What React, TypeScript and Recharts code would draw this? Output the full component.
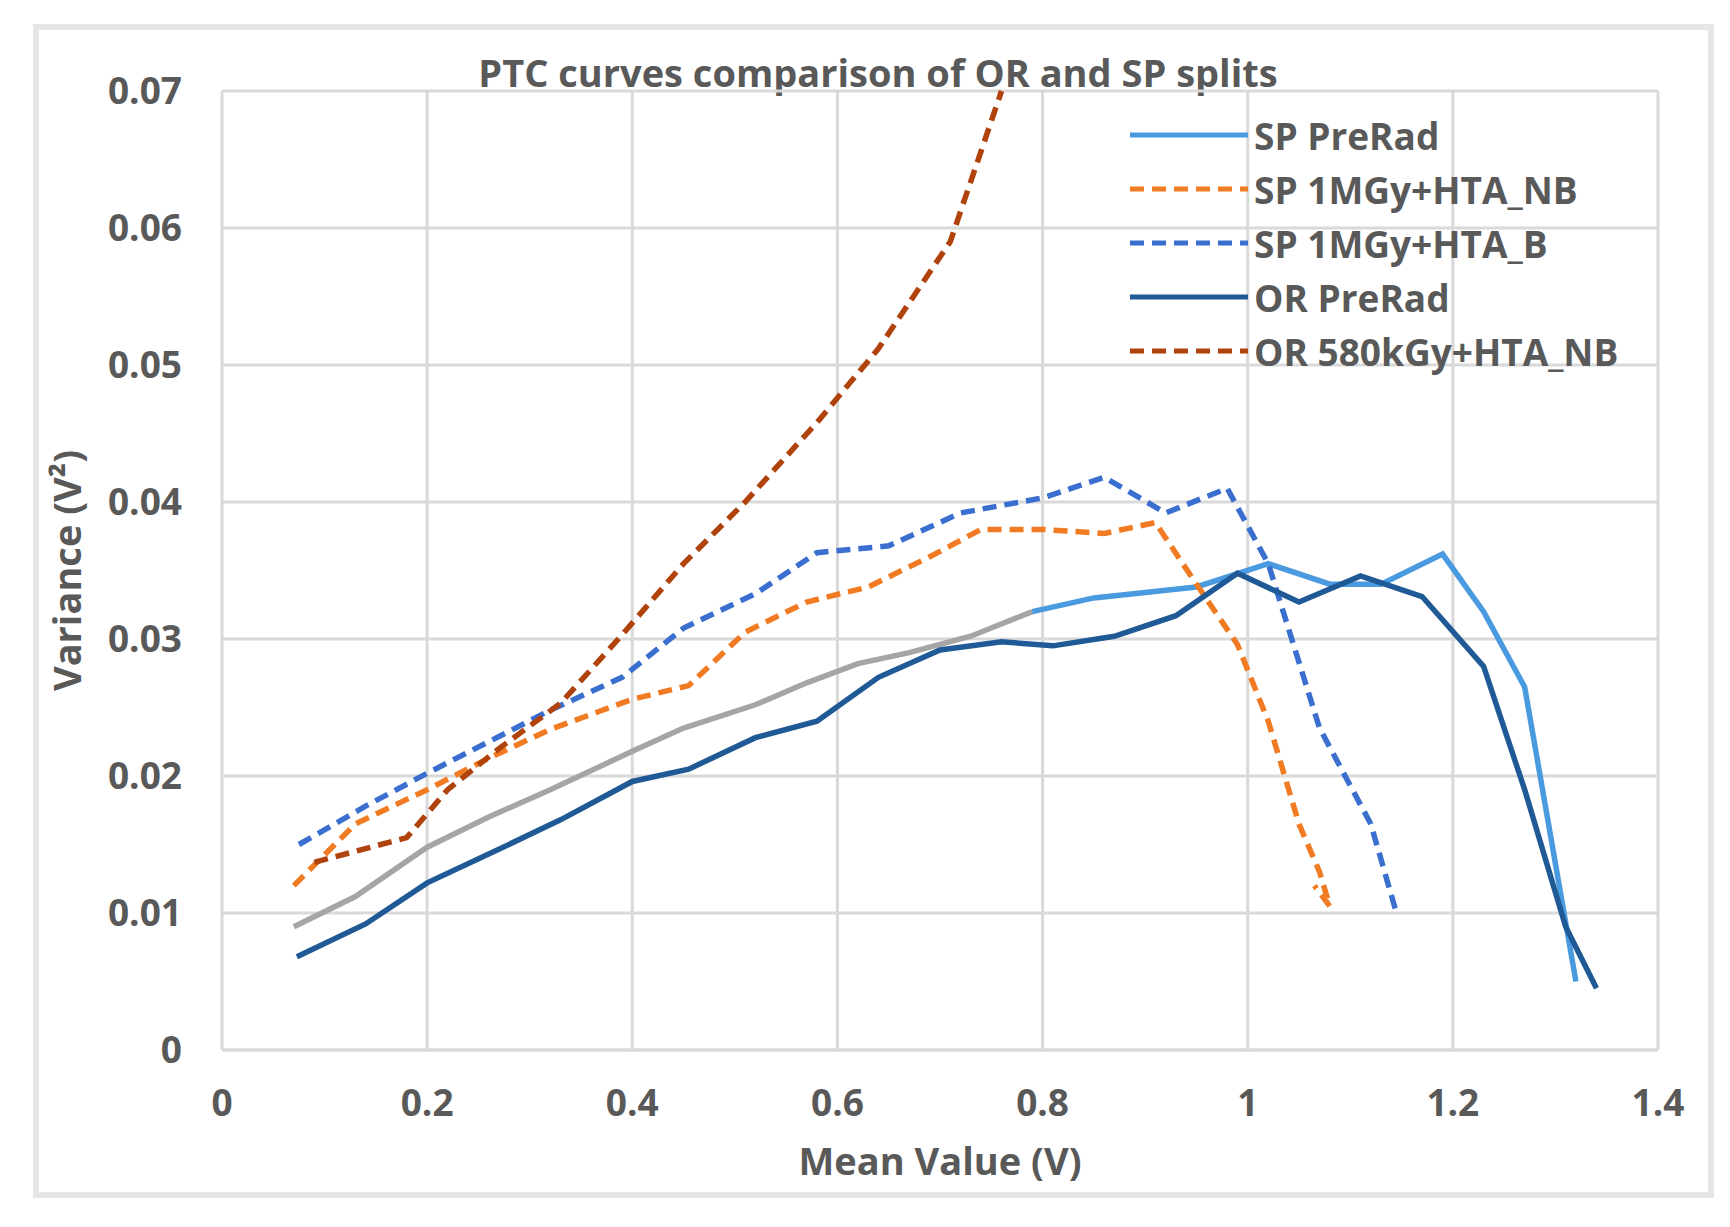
import React from 'react';
import {CartesianGrid, Line, LineChart, XAxis, YAxis} from 'recharts';

type Pt = {x: number; y: number};
const p = (arr: number[][]): Pt[] => arr.map(([x, y]) => ({x, y}));

const spPreRadEarly = p([
  [0.07, 0.009], [0.13, 0.0112], [0.2, 0.0148], [0.26, 0.017], [0.32, 0.019], [0.4, 0.0218],
  [0.45, 0.0235], [0.52, 0.0252], [0.57, 0.0268], [0.62, 0.0282], [0.67, 0.029], [0.73, 0.0302], [0.79, 0.032],
]);
const spPreRad = p([
  [0.79, 0.032], [0.85, 0.033], [0.95, 0.0338], [1.02, 0.0355], [1.08, 0.034], [1.13, 0.034],
  [1.19, 0.0362], [1.23, 0.032], [1.27, 0.0265], [1.32, 0.005],
]);
const orPreRad = p([
  [0.073, 0.0068], [0.14, 0.0092], [0.2, 0.0122], [0.26, 0.0143], [0.33, 0.0168], [0.4, 0.0196],
  [0.455, 0.0205], [0.52, 0.0228], [0.58, 0.024], [0.64, 0.0272], [0.7, 0.0292], [0.76, 0.0298],
  [0.81, 0.0295], [0.87, 0.0302], [0.93, 0.0317], [0.99, 0.0348], [1.05, 0.0327], [1.11, 0.0346],
  [1.17, 0.0331], [1.23, 0.028], [1.27, 0.019], [1.31, 0.009], [1.34, 0.0045],
]);
const sp1MGyNB = p([
  [0.07, 0.012], [0.13, 0.0165], [0.2, 0.019], [0.26, 0.0213], [0.32, 0.0234], [0.4, 0.0256],
  [0.455, 0.0266], [0.51, 0.0305], [0.57, 0.0327], [0.63, 0.0338], [0.69, 0.036], [0.74, 0.038],
  [0.8, 0.038], [0.86, 0.0377], [0.91, 0.0385], [0.95, 0.034], [0.99, 0.0296], [1.02, 0.024],
  [1.05, 0.0165], [1.07, 0.013], [1.08, 0.0105], [1.065, 0.012],
]);
const sp1MGyB = p([
  [0.075, 0.015], [0.14, 0.0178], [0.2, 0.0202], [0.26, 0.0225], [0.32, 0.0248], [0.39, 0.0272],
  [0.45, 0.0308], [0.52, 0.0333], [0.58, 0.0363], [0.65, 0.0368], [0.72, 0.0392], [0.8, 0.0403],
  [0.86, 0.0418], [0.92, 0.0392], [0.98, 0.041], [1.02, 0.0355], [1.07, 0.0235], [1.12, 0.0165], [1.145, 0.01],
]);
const or580 = p([
  [0.09, 0.0137], [0.13, 0.0145], [0.18, 0.0155], [0.22, 0.019], [0.27, 0.022], [0.33, 0.0253],
  [0.39, 0.0303], [0.45, 0.0355], [0.51, 0.04], [0.58, 0.0458], [0.64, 0.0512], [0.71, 0.059], [0.76, 0.07],
]);

const xTicks = [0, 0.2, 0.4, 0.6, 0.8, 1, 1.2, 1.4];
const yTicks = [0, 0.01, 0.02, 0.03, 0.04, 0.05, 0.06, 0.07];

const legendItems = [
  {name: 'SP PreRad', color: '#4a9ae0', dash: undefined},
  {name: 'SP 1MGy+HTA_NB', color: '#f07b22', dash: '14 8'},
  {name: 'SP 1MGy+HTA_B', color: '#3a6fd0', dash: '14 8'},
  {name: 'OR PreRad', color: '#1f5a96', dash: undefined},
  {name: 'OR 580kGy+HTA_NB', color: '#b0420c', dash: '14 8'},
];

const font = '"Open Sans", sans-serif';
const tickStyle = {fontSize: 37, fontWeight: 700, fill: '#595959', fontFamily: font};

function LegendBox() {
  return (
    <div style={{position: 'absolute', left: 1122, top: 100, fontFamily: font, fontWeight: 700, fontSize: 37, color: '#595959'}}>
      {legendItems.map((it) => (
        <div key={it.name} style={{display: 'flex', alignItems: 'center', height: 54}}>
          <svg width={118} height={10} style={{marginRight: 6}}>
            <line x1={0} y1={5} x2={118} y2={5} stroke={it.color} strokeWidth={5} strokeDasharray={it.dash} />
          </svg>
          {it.name}
        </div>
      ))}
    </div>
  );
}

export default function App() {
  const common = {type: 'linear' as const, dataKey: 'y', dot: false, isAnimationActive: false, strokeWidth: 5.5};
  return (
    <div style={{position: 'relative', width: 1714, height: 1211}}>
      <div style={{position: 'absolute', left: 25, top: 16, width: 1669, height: 1162, border: '6px solid #e6e6e6', background: '#fff'}} />
      <div style={{position: 'absolute', left: 0, top: 38, width: 1740, textAlign: 'center', fontFamily: font, fontWeight: 700, fontSize: 38, color: '#595959'}}>
        PTC curves comparison of OR and SP splits
      </div>
      <div style={{position: 'absolute', left: 0, top: 0}}>
        <LineChart width={1714} height={1211} margin={{top: 83, right: 64, bottom: 139, left: 0}}>
          <CartesianGrid stroke="#d9d9d9" strokeWidth={3} />
          <XAxis type="number" dataKey="x" domain={[0, 1.4]} ticks={xTicks} tick={tickStyle} axisLine={{stroke: '#d9d9d9', strokeWidth: 3}} tickLine={false} tickMargin={34}
            allowDuplicatedCategory={false}
            label={{value: 'Mean Value (V)', position: 'insideBottom', offset: -95, style: {...tickStyle, fontSize: 38}}} />
          <YAxis type="number" domain={[0, 0.07]} ticks={yTicks} width={214} tick={tickStyle} axisLine={false} tickLine={false} tickMargin={34}
            label={{value: 'Variance (V²)', angle: -90, position: 'insideLeft', offset: 60, style: {...tickStyle, fontSize: 38, textAnchor: 'middle'}}} />
          <Line {...common} data={spPreRadEarly} stroke="#a5a5a5" legendType="none" name="gray" />
          <Line {...common} data={spPreRad} stroke="#4a9ae0" name="SP PreRad" />
          <Line {...common} data={sp1MGyNB} stroke="#f07b22" strokeDasharray="14 8" name="SP 1MGy+HTA_NB" />
          <Line {...common} data={sp1MGyB} stroke="#3a6fd0" strokeDasharray="14 8" name="SP 1MGy+HTA_B" />
          <Line {...common} data={orPreRad} stroke="#1f5a96" name="OR PreRad" />
          <Line {...common} data={or580} stroke="#b0420c" strokeDasharray="14 8" name="OR 580kGy+HTA_NB" />
        </LineChart>
      </div>
      <LegendBox />
    </div>
  );
}
